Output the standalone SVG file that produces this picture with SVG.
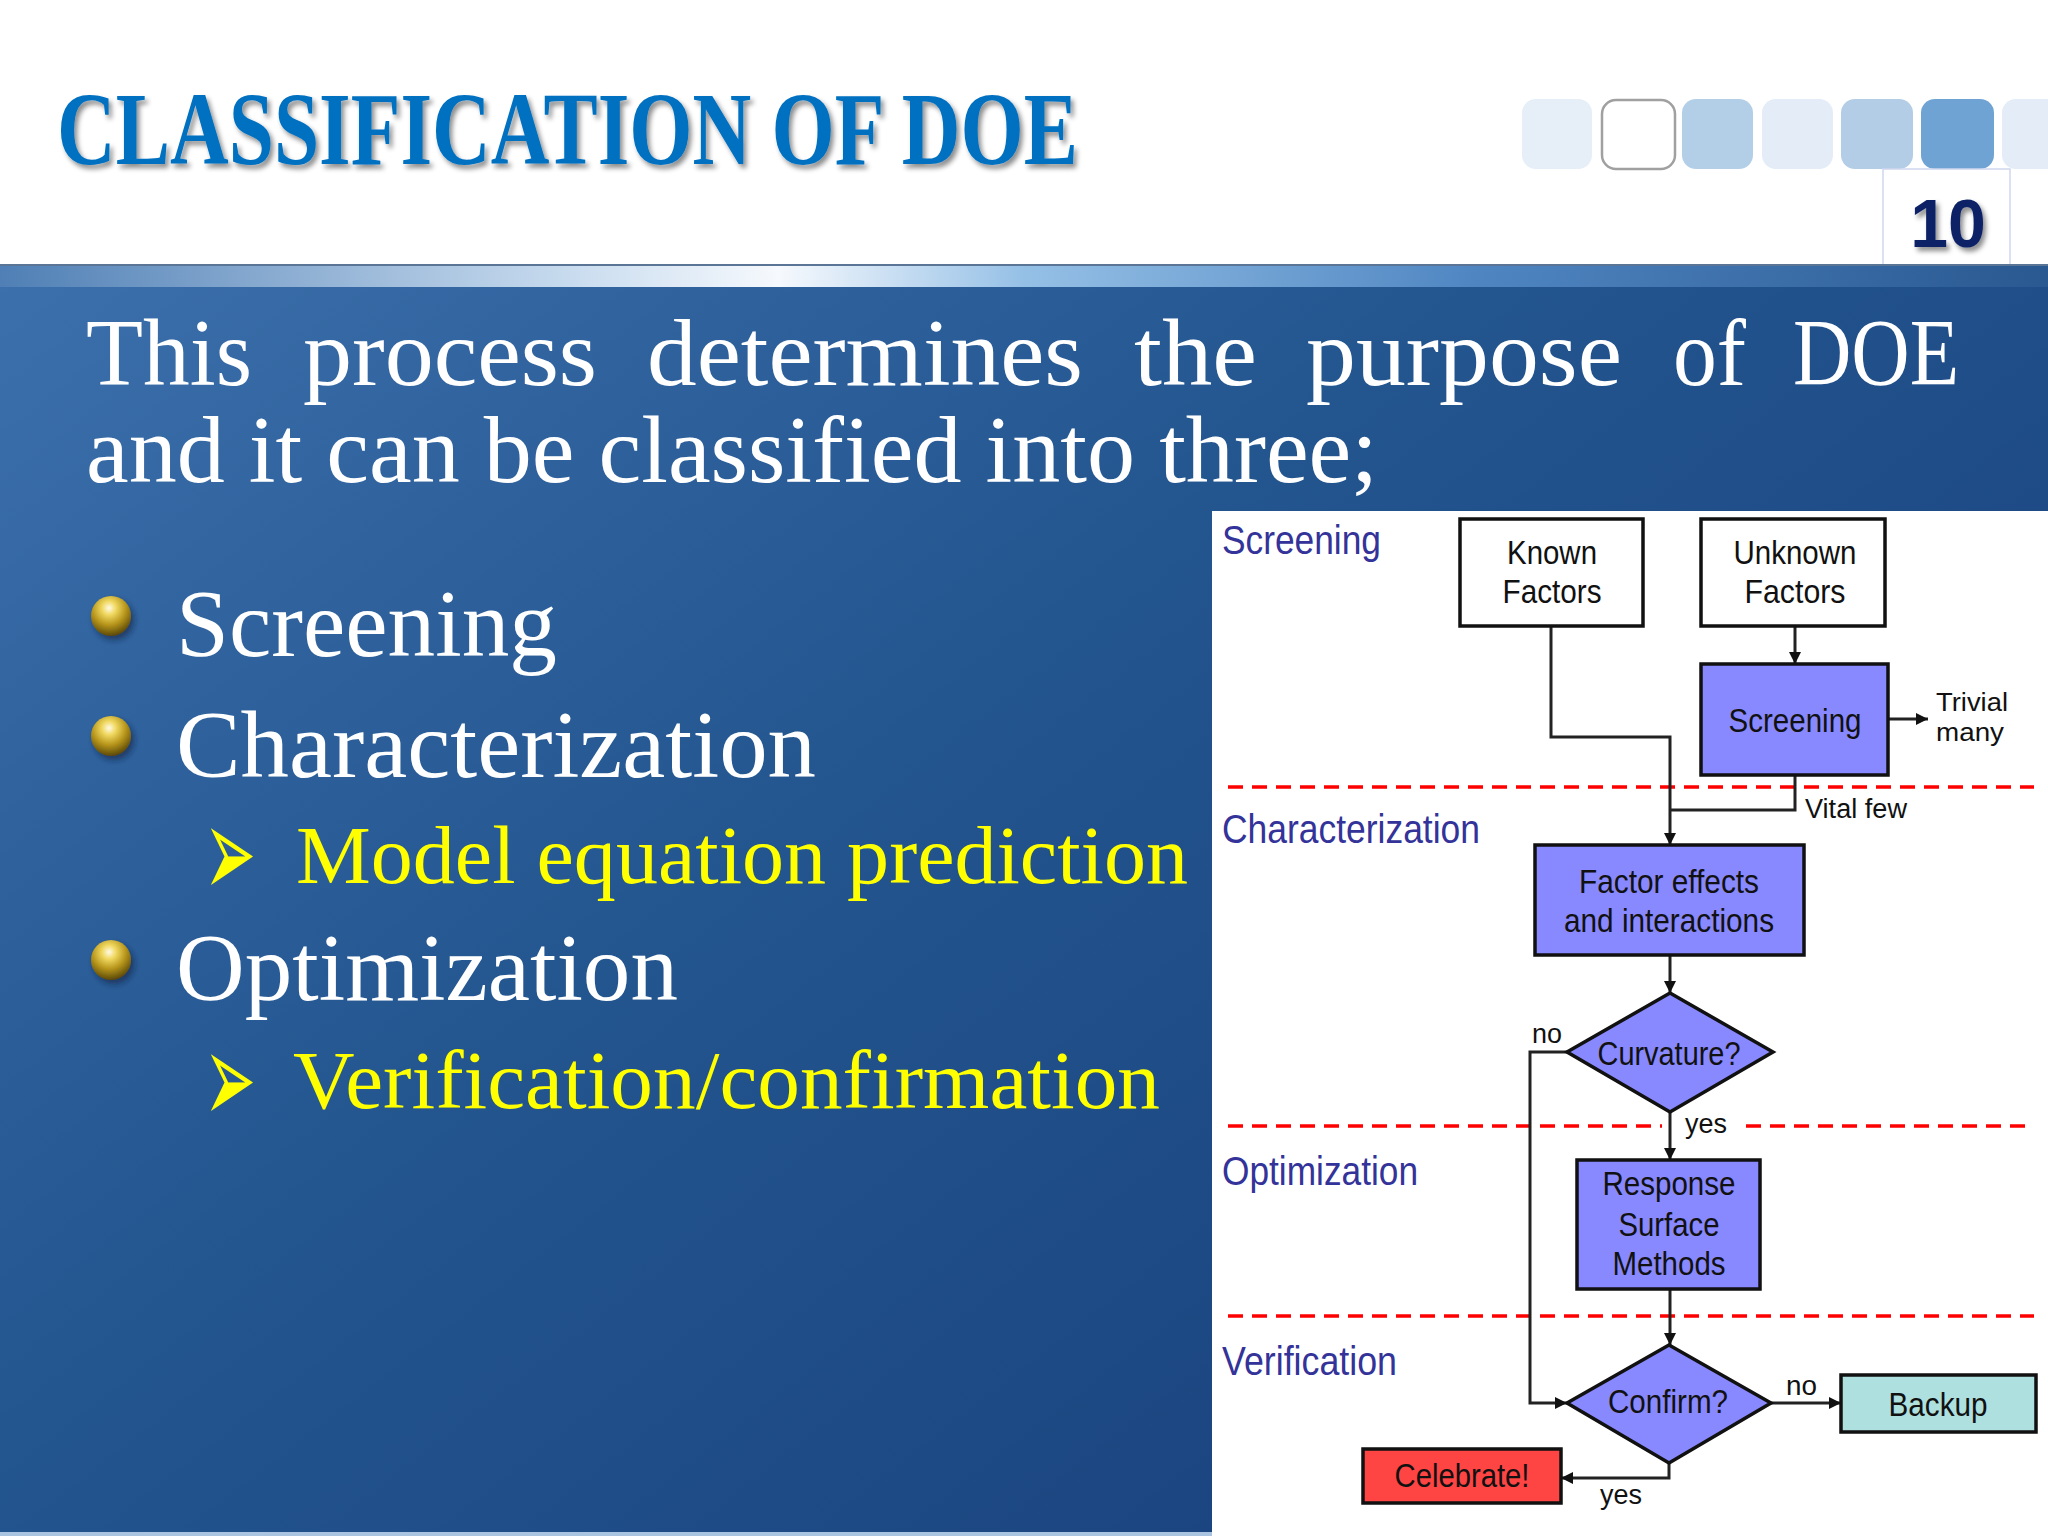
<svg xmlns="http://www.w3.org/2000/svg" width="2048" height="1536" viewBox="0 0 2048 1536">
<defs>
<style>
.title{font-family:"Liberation Serif",serif;font-weight:bold;font-size:103px;fill:#0070c0}
.para{font-family:"Liberation Serif",serif;font-size:95px;fill:#ffffff}
.sub{font-family:"Liberation Serif",serif;font-size:82px;fill:#ffff00}
.arw{font-family:"DejaVu Sans",sans-serif;font-size:86px;fill:#ffff00}
.lane{font-family:"Liberation Sans",sans-serif;font-size:40px;fill:#333399}
.lbl{font-family:"Liberation Sans",sans-serif;font-size:33px;fill:#111111;text-anchor:middle}
.sm{font-family:"Liberation Sans",sans-serif;font-size:27px;fill:#111111}
.tiny{font-family:"Liberation Sans",sans-serif;font-size:25px;fill:#111111}
.box{stroke:#111111;stroke-width:3.5}
.conn{fill:none;stroke:#222222;stroke-width:3}
.dash{stroke:#ff0000;stroke-width:3.5;stroke-dasharray:15 9}
</style>
<linearGradient id="bg" x1="0" y1="0" x2="1" y2="0.8">
<stop offset="0" stop-color="#3c70ac"/>
<stop offset="0.45" stop-color="#23558f"/>
<stop offset="1" stop-color="#183f7a"/>
</linearGradient>
<linearGradient id="strip" x1="0" y1="0" x2="1" y2="0">
<stop offset="0" stop-color="#4f7fb5"/>
<stop offset="0.28" stop-color="#c9dcef"/>
<stop offset="0.38" stop-color="#f6f9fd"/>
<stop offset="0.5" stop-color="#95c0e6"/>
<stop offset="0.72" stop-color="#4f86c2"/>
<stop offset="1" stop-color="#2a5890"/>
</linearGradient>
<radialGradient id="gold" cx="0.45" cy="0.3" r="0.7">
<stop offset="0" stop-color="#fffbe6"/>
<stop offset="0.25" stop-color="#f0d860"/>
<stop offset="0.6" stop-color="#b8961c"/>
<stop offset="1" stop-color="#5a4808"/>
</radialGradient>
<filter id="sh" x="-10%" y="-20%" width="130%" height="160%">
<feDropShadow dx="3" dy="4" stdDeviation="2.5" flood-color="#000000" flood-opacity="0.45"/>
</filter>
<filter id="bsh" x="-50%" y="-50%" width="200%" height="200%">
<feDropShadow dx="3" dy="4" stdDeviation="3" flood-color="#0a1a3a" flood-opacity="0.6"/>
</filter>
<marker id="ah" viewBox="0 0 10 10" refX="10" refY="5" markerWidth="12" markerHeight="12" markerUnits="userSpaceOnUse" orient="auto">
<path d="M0,0 L10,5 L0,10 z" fill="#111111"/>
</marker>
</defs>

<!-- header -->
<rect x="0" y="0" width="2048" height="266" fill="#ffffff"/>
<g id="title">
<text class="title" x="57" y="164" textLength="1021" lengthAdjust="spacingAndGlyphs" filter="url(#sh)">CLASSIFICATION OF DOE</text>
</g>
<g id="squares">
<rect x="1522" y="99" width="70" height="70" rx="14" fill="#e6eef8"/>
<rect x="1602" y="100" width="73" height="69" rx="14" fill="#ffffff" stroke="#a0a0a0" stroke-width="2.5"/>
<rect x="1682" y="99" width="71" height="70" rx="14" fill="#b3cfe8"/>
<rect x="1762" y="99" width="71" height="70" rx="14" fill="#e3ecf7"/>
<rect x="1841" y="99" width="72" height="70" rx="14" fill="#b3cde6"/>
<rect x="1921" y="99" width="73" height="70" rx="14" fill="#6fa3d4"/>
<rect x="2002" y="99" width="70" height="70" rx="14" fill="#e3ecf7"/>
</g>
<g id="pagenum">
<rect x="1883" y="169" width="127" height="96" fill="#ffffff" stroke="#d0d6f0" stroke-width="1.5"/>
<text x="1948" y="247" font-family="Liberation Sans, sans-serif" font-weight="bold" font-size="68" fill="#0f2366" text-anchor="middle" filter="url(#sh)">10</text>
</g>

<!-- blue body -->
<rect x="0" y="266" width="2048" height="1270" fill="url(#bg)"/>
<rect x="0" y="265" width="2048" height="22" fill="url(#strip)"/>
<rect x="0" y="264" width="2048" height="2" fill="#5a7595"/>
<rect x="0" y="1532" width="1212" height="4" fill="#a9c4e0"/>

<g id="intro">
<text class="para" x="86" y="385" textLength="166" lengthAdjust="spacingAndGlyphs">This</text>
<text class="para" x="303" y="385" textLength="294" lengthAdjust="spacingAndGlyphs">process</text>
<text class="para" x="647" y="385" textLength="436" lengthAdjust="spacingAndGlyphs">determines</text>
<text class="para" x="1134" y="385" textLength="123" lengthAdjust="spacingAndGlyphs">the</text>
<text class="para" x="1306" y="385" textLength="316" lengthAdjust="spacingAndGlyphs">purpose</text>
<text class="para" x="1673" y="385" textLength="73" lengthAdjust="spacingAndGlyphs">of</text>
<text class="para" x="1793" y="385" textLength="166" lengthAdjust="spacingAndGlyphs">DOE</text>
<text class="para" x="86" y="482" textLength="1292" lengthAdjust="spacingAndGlyphs">and it can be classified into three;</text>
</g>

<g id="bullets">
<circle cx="111" cy="616" r="20" fill="url(#gold)" filter="url(#bsh)"/>
<text class="para" x="176" y="656" textLength="381" lengthAdjust="spacingAndGlyphs">Screening</text>
<circle cx="111" cy="736" r="20" fill="url(#gold)" filter="url(#bsh)"/>
<text class="para" x="176" y="777" textLength="640" lengthAdjust="spacingAndGlyphs">Characterization</text>
<text class="arw" x="204" y="888" textLength="52" lengthAdjust="spacingAndGlyphs" transform="matrix(1 0 0 1.5 0 -435)">➢</text>
<text class="sub" x="296" y="883" textLength="892" lengthAdjust="spacingAndGlyphs">Model equation prediction</text>
<circle cx="111" cy="960" r="20" fill="url(#gold)" filter="url(#bsh)"/>
<text class="para" x="176" y="1000" textLength="502" lengthAdjust="spacingAndGlyphs">Optimization</text>
<text class="arw" x="204" y="1113" textLength="52" lengthAdjust="spacingAndGlyphs" transform="matrix(1 0 0 1.5 0 -546)">➢</text>
<text class="sub" x="293" y="1108" textLength="867" lengthAdjust="spacingAndGlyphs">Verification/confirmation</text>
</g>

<!-- flowchart panel -->
<rect x="1212" y="511" width="836" height="1025" fill="#ffffff"/>

<g id="lanes">
<line class="dash" x1="1228" y1="787" x2="2034" y2="787"/>
<line class="dash" x1="1228" y1="1126" x2="1662" y2="1126"/>
<line class="dash" x1="1746" y1="1126" x2="2034" y2="1126"/>
<line class="dash" x1="1228" y1="1316" x2="2034" y2="1316"/>
<text class="lane" x="1222" y="554" textLength="159" lengthAdjust="spacingAndGlyphs">Screening</text>
<text class="lane" x="1222" y="843" textLength="258" lengthAdjust="spacingAndGlyphs">Characterization</text>
<text class="lane" x="1222" y="1185" textLength="196" lengthAdjust="spacingAndGlyphs">Optimization</text>
<text class="lane" x="1222" y="1375" textLength="175" lengthAdjust="spacingAndGlyphs">Verification</text>
</g>

<g id="connectors">
<line class="conn" x1="1795" y1="626" x2="1795" y2="664" marker-end="url(#ah)"/>
<line class="conn" x1="1888" y1="719" x2="1928" y2="719" marker-end="url(#ah)"/>
<polyline class="conn" points="1551,626 1551,737 1670,737 1670,845" marker-end="url(#ah)"/>
<polyline class="conn" points="1795,775 1795,810 1670,810" stroke="#555555" stroke-width="4"/>
<line class="conn" x1="1670" y1="955" x2="1670" y2="993" marker-end="url(#ah)"/>
<line class="conn" x1="1670" y1="1112" x2="1670" y2="1160" marker-end="url(#ah)"/>
<polyline class="conn" points="1567,1052 1530,1052 1530,1403 1567,1403" marker-end="url(#ah)"/>
<line class="conn" x1="1670" y1="1289" x2="1670" y2="1345" marker-end="url(#ah)"/>
<line class="conn" x1="1771" y1="1403" x2="1841" y2="1403" marker-end="url(#ah)"/>
<polyline class="conn" points="1669,1463 1669,1478 1561,1478" marker-end="url(#ah)"/>
<text class="tiny" x="1936" y="711" textLength="72" lengthAdjust="spacingAndGlyphs">Trivial</text>
<text class="tiny" x="1936" y="741" textLength="68" lengthAdjust="spacingAndGlyphs">many</text>
<text class="sm" x="1805" y="818" textLength="102" lengthAdjust="spacingAndGlyphs">Vital few</text>
<text class="sm" x="1532" y="1043" textLength="30" lengthAdjust="spacingAndGlyphs">no</text>
<text class="sm" x="1685" y="1133" textLength="42" lengthAdjust="spacingAndGlyphs">yes</text>
<text class="sm" x="1786" y="1395" textLength="31" lengthAdjust="spacingAndGlyphs">no</text>
<text class="sm" x="1600" y="1504" textLength="42" lengthAdjust="spacingAndGlyphs">yes</text>
</g>

<g id="known">
<rect class="box" x="1460" y="519" width="183" height="107" fill="#ffffff"/>
<text class="lbl" x="1552" y="564" textLength="90" lengthAdjust="spacingAndGlyphs">Known</text>
<text class="lbl" x="1552" y="603" textLength="99" lengthAdjust="spacingAndGlyphs">Factors</text>
</g>
<g id="unknown">
<rect class="box" x="1701" y="519" width="184" height="107" fill="#ffffff"/>
<text class="lbl" x="1795" y="564" textLength="123" lengthAdjust="spacingAndGlyphs">Unknown</text>
<text class="lbl" x="1795" y="603" textLength="101" lengthAdjust="spacingAndGlyphs">Factors</text>
</g>
<g id="screening">
<rect class="box" x="1701" y="664" width="187" height="111" fill="#8888ff"/>
<text class="lbl" x="1795" y="732" textLength="133" lengthAdjust="spacingAndGlyphs">Screening</text>
</g>
<g id="factor-effects">
<rect class="box" x="1535" y="845" width="269" height="110" fill="#8888ff"/>
<text class="lbl" x="1669" y="893" textLength="180" lengthAdjust="spacingAndGlyphs">Factor effects</text>
<text class="lbl" x="1669" y="932" textLength="210" lengthAdjust="spacingAndGlyphs">and interactions</text>
</g>
<g id="curvature">
<polygon class="box" points="1670,993 1773,1052 1670,1112 1567,1052" fill="#8888ff"/>
<text class="lbl" x="1669" y="1065" textLength="143" lengthAdjust="spacingAndGlyphs">Curvature?</text>
</g>
<g id="rsm">
<rect class="box" x="1577" y="1160" width="183" height="129" fill="#8888ff"/>
<text class="lbl" x="1669" y="1195" textLength="133" lengthAdjust="spacingAndGlyphs">Response</text>
<text class="lbl" x="1669" y="1236" textLength="101" lengthAdjust="spacingAndGlyphs">Surface</text>
<text class="lbl" x="1669" y="1275" textLength="113" lengthAdjust="spacingAndGlyphs">Methods</text>
</g>
<g id="confirm">
<polygon class="box" points="1669,1345 1771,1403 1669,1463 1567,1403" fill="#8888ff"/>
<text class="lbl" x="1668" y="1413" textLength="120" lengthAdjust="spacingAndGlyphs">Confirm?</text>
</g>
<g id="backup">
<rect class="box" x="1841" y="1375" width="195" height="57" fill="#aee0e0"/>
<text class="lbl" x="1938" y="1416" textLength="99" lengthAdjust="spacingAndGlyphs">Backup</text>
</g>
<g id="celebrate">
<rect class="box" x="1363" y="1449" width="198" height="54" fill="#ff4444"/>
<text class="lbl" x="1462" y="1487" textLength="135" lengthAdjust="spacingAndGlyphs">Celebrate!</text>
</g>
</svg>
